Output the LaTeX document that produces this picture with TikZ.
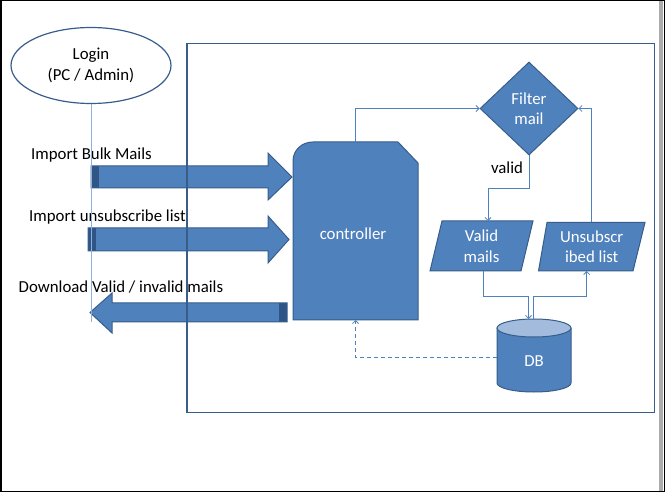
\documentclass[tikz,border=0pt]{standalone}
\usepackage{fontspec}
\setmainfont{Carlito}
\usetikzlibrary{shapes.geometric,arrows.meta}
\definecolor{obl}{HTML}{4F81BD}
\definecolor{obd}{HTML}{385D8A}
\definecolor{ostr}{HTML}{2F5587}
\definecolor{olt}{HTML}{A3BCDD}
\definecolor{oline}{HTML}{8FB0DA}
\begin{document}
\begin{tikzpicture}[x=1pt,y=-1pt,
  font=\fontsize{16.8}{20.5}\selectfont,
  shapefill/.style={draw=obd, fill=obl, line width=1pt},
  blk/.style={draw=obd, line width=1pt},
  conn/.style={draw=obl, line width=0.8pt, -{Straight Barb[length=3pt,width=6pt]}},
  anchorbox/.style={inner sep=0pt, outer sep=0pt},
  lbl/.style={anchor=west, inner sep=0pt}]
\useasboundingbox (0,0) rectangle (665,492);
\fill[white] (0,0) rectangle (665,492);
% outer frame
\fill[gray!65] (659,1) rectangle (663,491);
\draw[black, line width=1.5pt] (0.75,0.75) rectangle (664.25,491.25);

% block arrows
\fill[obl] (91,166) -- (268,166) -- (268,153) -- (292,177) -- (268,200) -- (268,188) -- (91,188) -- cycle;
\fill[ostr] (91,166) rectangle (99,188);
\draw[blk] (91,166) -- (268,166) -- (268,153) -- (292,177) -- (268,200) -- (268,188) -- (91,188) -- cycle;

\fill[obl] (88,228) -- (268,228) -- (268,216) -- (289,239.5) -- (268,263) -- (268,251) -- (88,251) -- cycle;
\fill[ostr] (88,228) rectangle (96,251);
\draw[blk] (88,228) -- (268,228) -- (268,216) -- (289,239.5) -- (268,263) -- (268,251) -- (88,251) -- cycle;

\fill[obl] (287,303) -- (112,303) -- (112,293) -- (90,312.5) -- (112,333) -- (112,322) -- (287,322) -- cycle;
\fill[ostr] (279,303) rectangle (287,322);
\draw[blk] (287,303) -- (112,303) -- (112,293) -- (90,312.5) -- (112,333) -- (112,322) -- (287,322) -- cycle;

% arrow labels
\node[lbl] (t1) at (31,155) {Import Bulk Mails};
\node[lbl] (t2) at (29,217.5) {Import unsubscribe list};
\node[lbl] (t3) at (18.5,287) {Download Valid / invalid mails};

% big system box
\draw[obd, line width=1.5pt] (187,43.5) rectangle (654.5,412.5);

% login
\node[ellipse, draw=obd, fill=white, line width=1.2pt, minimum width=160pt, minimum height=76pt, align=center, inner sep=0pt] (login) at (91,65.5) {Login\\(PC / Admin)};
\coordinate (lend) at (91,322);
\draw[oline, line width=0.8pt] (login.south) -- (lend);

% controller
\draw[shapefill] (293,320) -- (293,161) .. controls (293,150) and (302,142) .. (313,142) -- (398,142) -- (418,163) -- (418,320) -- cycle;
\node[anchorbox, minimum width=125pt, minimum height=178pt] (ctrl) at (355.5,231) {};
\node[text=white] (ctrltxt) at (353,233.5) {controller};

% filter diamond
\node[diamond, draw=obd, fill=obl, line width=1pt, inner sep=0pt, minimum width=98pt, minimum height=93pt, align=center, text=white] (filt) at (529,108.5) {Filter\\mail};
\node (tv) at (507,168) {valid};

% valid mails
\draw[shapefill] (442,221) -- (533,221) -- (521,271) -- (430,271) -- cycle;
\node[anchorbox, minimum width=91pt, minimum height=50pt, align=center, text=white] (valid) at (481.5,246) {Valid\\mails};

% unsubscribed list
\draw[shapefill] (547,222.5) -- (645,222.5) -- (633,271) -- (538.5,271) -- cycle;
\node[anchorbox, minimum width=95pt, minimum height=48.5pt, align=center, text=white] (unsub) at (591.7,246.75) {Unsubscr\\ibed list};

% DB
\path[shapefill] (497,328) -- (497,383) arc[start angle=180, end angle=0, x radius=37, y radius=9] -- (571,328) -- cycle;
\draw[shapefill, fill=olt] (534,328) ellipse[x radius=37, y radius=9];
\node[anchorbox, minimum width=74pt, minimum height=73pt] (db) at (534,355.5) {};
\node[text=white] (dbtxt) at (534,361) {DB};

% connectors
\draw[conn] (ctrl.north) |- (filt.west);
\draw[conn] (filt.south) -- ++(0,33) -| ([xshift=6.5pt]valid.north);
\draw[conn] ([xshift=1.5pt]valid.south) -- ++(0,25) -| ([xshift=-5.5pt]db.north);
\draw[conn] ([xshift=-0.5pt]db.north) -- ++(0,-23) -| ([xshift=-5pt]unsub.south);
\draw[conn] (unsub.north) |- (filt.east);
\draw[conn, dashed, dash pattern=on 4pt off 3pt] ([yshift=-1.5pt]db.west) -| (ctrl.south);
\end{tikzpicture}
\end{document}
